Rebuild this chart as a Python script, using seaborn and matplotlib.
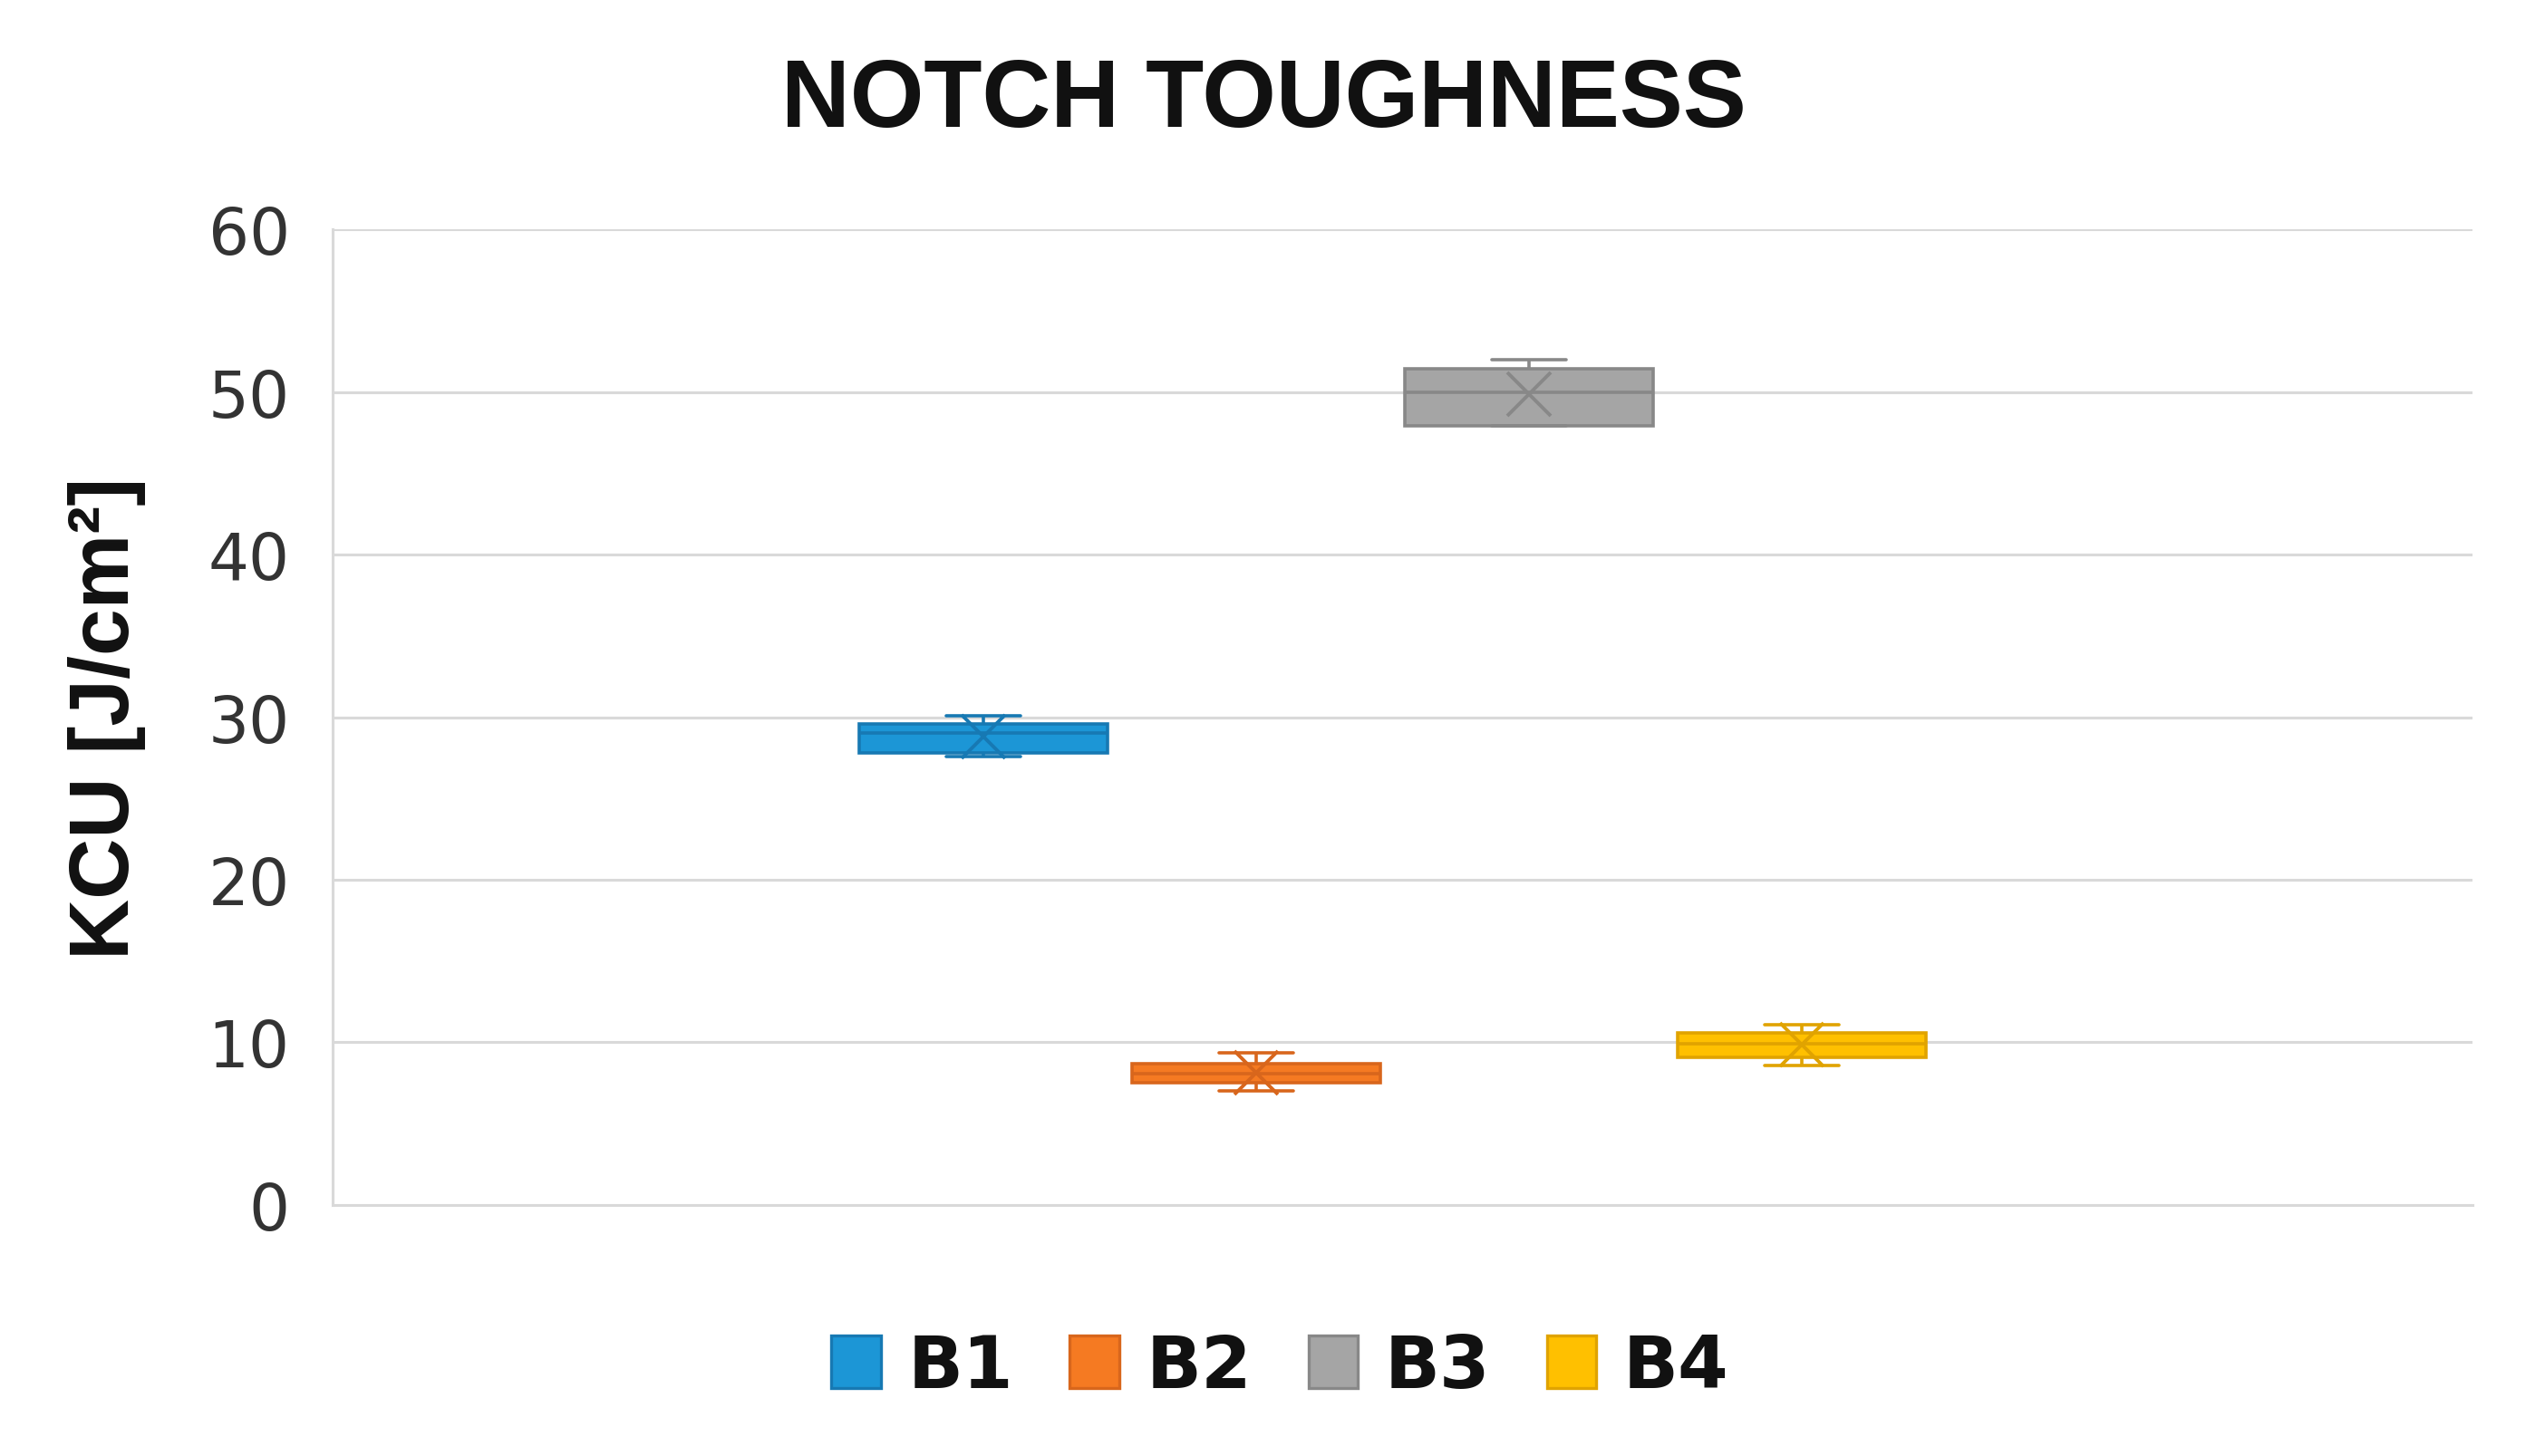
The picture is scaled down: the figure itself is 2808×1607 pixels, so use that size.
import numpy as np
import pandas as pd
import matplotlib
matplotlib.use("Agg")
import matplotlib.pyplot as plt
import seaborn as sns
from matplotlib.patches import Patch

# KCU values per batch
series = ['B1', 'B2', 'B3', 'B4']
b1 = [27.6, 27.8, 29.0, 29.6, 30.1]
b2 = [7.0, 7.5, 8.1, 8.7, 9.35]
b3 = [47.9, 47.9, 50.0, 51.4, 52.0]
b4 = [8.6, 9.1, 9.9, 10.6, 11.1]
y_ticks = [0, 10, 20, 30, 40, 50, 60]

fills = ['#1C96D6', '#F57A22', '#A5A5A5', '#FFC000']
edges = ['#1779B3', '#D8661C', '#888888', '#E0A300']

df = pd.DataFrame({
    'Series': np.repeat(series, [len(b1), len(b2), len(b3), len(b4)]),
    'KCU': b1 + b2 + b3 + b4,
})
df['grp'] = 'all'

sns.set_style('white')
plt.rcParams['font.family'] = ['DejaVu Sans']

fig = plt.figure(figsize=(14.04, 8.04), dpi=200)
ax = fig.add_axes([0.1307, 0.1723, 0.9715 - 0.1307, 0.842 - 0.1723])

sns.boxplot(data=df, x='grp', y='KCU', hue='Series', hue_order=series,
            palette=fills, saturation=1, width=0.51, gap=0.09, whis=10,
            showmeans=True, linewidth=1.3, legend=False, ax=ax,
            meanprops=dict(marker='x', markersize=17, markeredgewidth=1.4))

# colour each series' outlines a shade darker, shorten caps
for c, ec in zip(ax.containers, edges):
    for b in c.boxes:
        b.set_edgecolor(ec)
        b.set_zorder(3)
    for ln in list(c.whiskers) + list(c.caps) + list(c.medians):
        ln.set_color(ec)
        ln.set_zorder(3)
    for cap in c.caps:
        xd = np.asarray(cap.get_xdata(), dtype=float)
        cx = xd.mean()
        cap.set_xdata([cx - 0.0175, cx + 0.0175])
    for m in c.means:
        m.set_markeredgecolor(ec)
        m.set_markerfacecolor(ec)
        m.set_zorder(4)

ax.set_xlim(-0.4954, 0.5046)
ax.set_ylim(0, 60)
ax.set_yticks(y_ticks)
ax.set_xticks([])
ax.set_xlabel('')
ax.yaxis.grid(True, color='#D9D9D9', linewidth=1.1, zorder=0)
ax.set_axisbelow(True)
for s in ['top', 'right']:
    ax.spines[s].set_visible(False)
for s in ['left', 'bottom']:
    ax.spines[s].set_color('#D9D9D9')
    ax.spines[s].set_linewidth(1.1)
ax.tick_params(axis='y', length=0, pad=17, labelsize=25.5, labelcolor='#333333')

ax.set_ylabel('KCU [J/cm²]', fontsize=33.5, fontweight='bold',
              family='Liberation Sans', color='#111111')
ax.yaxis.set_label_coords(-0.0872, 0.5)

fig.text(0.4965, 0.93, 'NOTCH TOUGHNESS', ha='center', va='center',
         fontsize=37.8, fontweight='bold', family='Liberation Sans', color='#111111')

handles = [Patch(facecolor=f, edgecolor=e, linewidth=1.2) for f, e in zip(fills, edges)]
leg = fig.legend(handles, series, loc='center', bbox_to_anchor=(0.503, 0.061), ncol=4,
                 frameon=False, handlelength=0.68, handleheight=0.74,
                 handletextpad=0.37, columnspacing=0.78,
                 prop=dict(size=28.8, weight='bold'))
for t in leg.get_texts():
    t.set_color('#111111')

fig.savefig('out.png', dpi=200, facecolor='white')
